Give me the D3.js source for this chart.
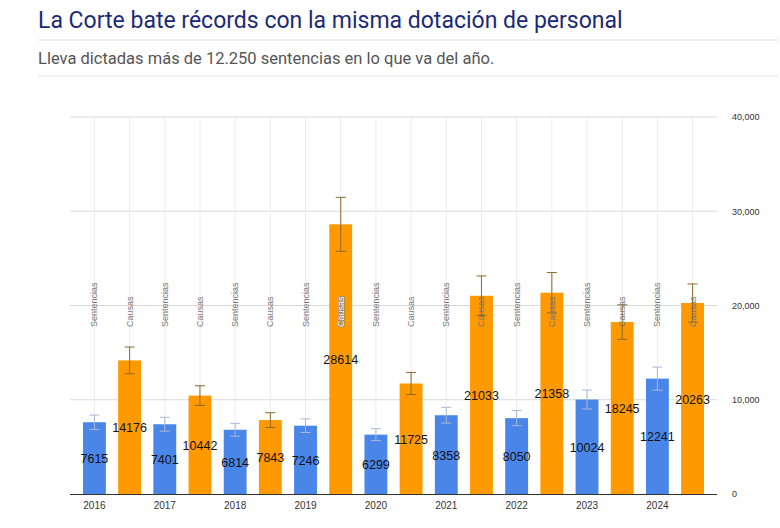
<!DOCTYPE html>
<html lang="es">
<head>
<meta charset="UTF-8">
<title>La Corte</title>
<style>
  body { margin: 0; background: #fff; font-family: Roboto, "Noto Sans", sans-serif; }
</style>
</head>
<body>
<svg id="chart" width="780" height="528"></svg>
<script src="https://d3js.org/d3.v7.min.js"></script>
<script>
const years = ["2016", "2017", "2018", "2019", "2020", "2021", "2022", "2023", "2024"];
const sentencias = [7615, 7401, 6814, 7246, 6299, 8358, 8050, 10024, 12241];
const causas = [14176, 10442, 7843, 28614, 11725, 21033, 21358, 18245, 20263];
const yTicks = [0, 10000, 20000, 30000, 40000];

const svg = d3.select("#chart");

// title block
svg.append("text").attr("x", 38).attr("y", 28)
  .style("font-size", "23px").style("fill", "#1b2a78").style("font-family", "Roboto, sans-serif")
  .text("La Corte bate récords con la misma dotación de personal");
svg.append("line").attr("x1", 38).attr("x2", 778).attr("y1", 40).attr("y2", 40).style("stroke", "#e3e3e3");
svg.append("text").attr("x", 38).attr("y", 64)
  .style("font-size", "16.5px").style("fill", "#555")
  .text("Lleva dictadas más de 12.250 sentencias en lo que va del año.");
svg.append("line").attr("x1", 38).attr("x2", 778).attr("y1", 76).attr("y2", 76).style("stroke", "#e3e3e3");

// flatten into bars
const bars = [];
years.forEach((yr, i) => {
  bars.push({ key: yr + "s", year: yr, type: "Sentencias", v: sentencias[i] });
  bars.push({ key: yr + "c", year: yr, type: "Causas", v: causas[i] });
});

const x = d3.scaleBand().domain(bars.map(d => d.key)).range([77, 710]).paddingInner(0.35).paddingOuter(0.17);
const y = d3.scaleLinear().domain([0, 40000]).range([494, 117]);

const g = svg.append("g");

// horizontal grid
g.selectAll(".hg").data(yTicks.slice(1)).enter().append("line")
  .attr("x1", 70).attr("x2", 717)
  .attr("y1", d => y(d)).attr("y2", d => y(d))
  .style("stroke", "#d9d9d9");

// vertical grid through bars
g.selectAll(".vg").data(bars).enter().append("line")
  .attr("x1", d => x(d.key) + x.bandwidth() / 2).attr("x2", d => x(d.key) + x.bandwidth() / 2)
  .attr("y1", 117).attr("y2", 494)
  .style("stroke", "#ececec");

// right axis
const axis = d3.axisRight(y).tickValues(yTicks).tickSize(0).tickPadding(0);
const ax = svg.append("g").attr("transform", "translate(732,0)").call(axis);
ax.select(".domain").remove();
ax.selectAll("text").style("font-size", "9px").style("fill", "#333").style("font-family", "Arial, sans-serif");

// bars
g.selectAll(".bar").data(bars).enter().append("rect")
  .attr("x", d => x(d.key)).attr("width", x.bandwidth())
  .attr("y", d => y(d.v)).attr("height", d => y(0) - y(d.v))
  .style("fill", d => d.type === "Causas" ? "#ff9900" : "#4a86e8");

// baseline
g.append("line").attr("x1", 70).attr("x2", 717).attr("y1", 494.5).attr("y2", 494.5).style("stroke", "#333");

// error bars (±10%)
const eb = g.selectAll(".eb").data(bars).enter().append("g")
  .style("stroke", d => d.type === "Causas" ? "#8a6a2a" : "#a9b9d6").style("stroke-width", 1);
eb.append("line")
  .attr("x1", d => x(d.key) + x.bandwidth() / 2).attr("x2", d => x(d.key) + x.bandwidth() / 2)
  .attr("y1", d => y(d.v * 1.1)).attr("y2", d => y(d.v * 0.9));
[1.1, 0.9].forEach(f => {
  eb.append("line")
    .attr("x1", d => x(d.key) + x.bandwidth() / 2 - 5).attr("x2", d => x(d.key) + x.bandwidth() / 2 + 5)
    .attr("y1", d => y(d.v * f)).attr("y2", d => y(d.v * f));
});

// type labels, rotated
g.selectAll(".tl").data(bars).enter().append("text")
  .attr("transform", d => `translate(${x(d.key) + x.bandwidth() / 2 + 3},327) rotate(-90)`)
  .style("font-size", "9px").style("font-family", "Arial, sans-serif")
  .style("fill", d => y(d.v) < 290 ? "#fff" : "#777")
  .style("paint-order", "stroke").style("stroke", d => y(d.v) < 290 ? "#888" : "none").style("stroke-width", 1.5)
  .text(d => d.type);

// value labels
g.selectAll(".vl").data(bars).enter().append("text")
  .attr("x", d => x(d.key) + x.bandwidth() / 2)
  .attr("y", d => (y(d.v) + y(0)) / 2 + 5)
  .attr("text-anchor", "middle")
  .style("font-size", "12.5px").style("font-weight", "500").style("font-family", "Arial, sans-serif")
  .style("fill", "#111")
  .text(d => d.v);

// year labels under blue bars
g.selectAll(".yl").data(bars.filter(d => d.type === "Sentencias")).enter().append("text")
  .attr("x", d => x(d.key) + x.bandwidth() / 2)
  .attr("y", 509).attr("text-anchor", "middle")
  .style("font-size", "10px").style("fill", "#333").style("font-family", "Arial, sans-serif")
  .text(d => d.year);
</script>
</body>
</html>
